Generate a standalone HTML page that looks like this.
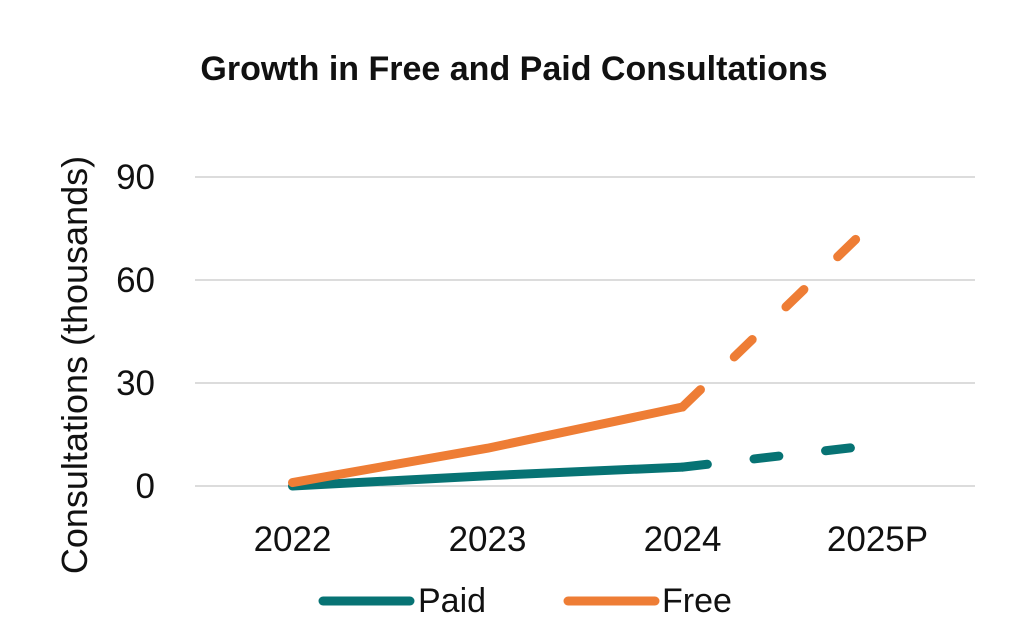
<!DOCTYPE html>
<html><head><meta charset="utf-8"><style>
body{margin:0;background:#fff}
svg{display:block;font-family:"Liberation Sans",sans-serif}
</style></head><body>
<svg width="1031" height="637">
<text x="514" y="80" text-anchor="middle" font-size="34" font-weight="bold" fill="#111">Growth in Free and Paid Consultations</text>
<text transform="translate(87,365) rotate(-90)" text-anchor="middle" font-size="36" fill="#111">Consultations (thousands)</text>
<g id="grid"></g><g id="ticks"></g><g id="lines"></g>
<g>
<line x1="323" y1="601" x2="410" y2="601" stroke="#077374" stroke-width="9" stroke-linecap="round"/>
<text x="418" y="612" font-size="34" fill="#111">Paid</text>
<line x1="568" y1="601" x2="655" y2="601" stroke="#ee7d35" stroke-width="9" stroke-linecap="round"/>
<text x="662" y="612" font-size="34" fill="#111">Free</text>
</g>
</svg>
<script>
const categories=["2022","2023","2024","2025P"];
const paid=[0,3,5.5,12];
const free=[1,11,23,78];
const yTicks=[0,30,60,90];
const L=195,R=975,Y0=486,Y90=177;
const xs=i=>L+(R-L)/categories.length*(i+0.5);
const ys=v=>Y0-(Y0-Y90)*v/90;
const NS="http://www.w3.org/2000/svg";
const mk=(t,a,p)=>{const e=document.createElementNS(NS,t);for(const k in a)e.setAttribute(k,a[k]);document.getElementById(p).appendChild(e);return e;};
yTicks.forEach(v=>{
 const g=mk("line",{x1:L,x2:R,y1:ys(v),y2:ys(v),stroke:"#dcdcdc","stroke-width":2},"grid");
 
 
 const t=mk("text",{x:155,y:ys(v)+12,"text-anchor":"end","font-size":35,fill:"#111"},"ticks");
 t.textContent=v;
 
 
});
categories.forEach((c,i)=>{
 const t=mk("text",{x:xs(i),y:551,"text-anchor":"middle","font-size":35,fill:"#111"},"ticks");
 t.textContent=c;
 
 
});
function series(vals,col,name){
 const pts=vals.slice(0,3).map((v,i)=>xs(i)+","+ys(v)).join(" ");
 const s=mk("polyline",{points:pts,fill:"none",stroke:col,"stroke-width":9,"stroke-linecap":"round","stroke-linejoin":"round"},"lines");
 
 
 const d=mk("line",{x1:xs(2),y1:ys(vals[2]),x2:xs(3),y2:ys(vals[3]),stroke:col,"stroke-width":9,"stroke-linecap":"round","stroke-dasharray":"25 47"},"lines");
 
 
}
series(paid,"#077374","paid");
series(free,"#ee7d35","free");
</script>
</body></html>
